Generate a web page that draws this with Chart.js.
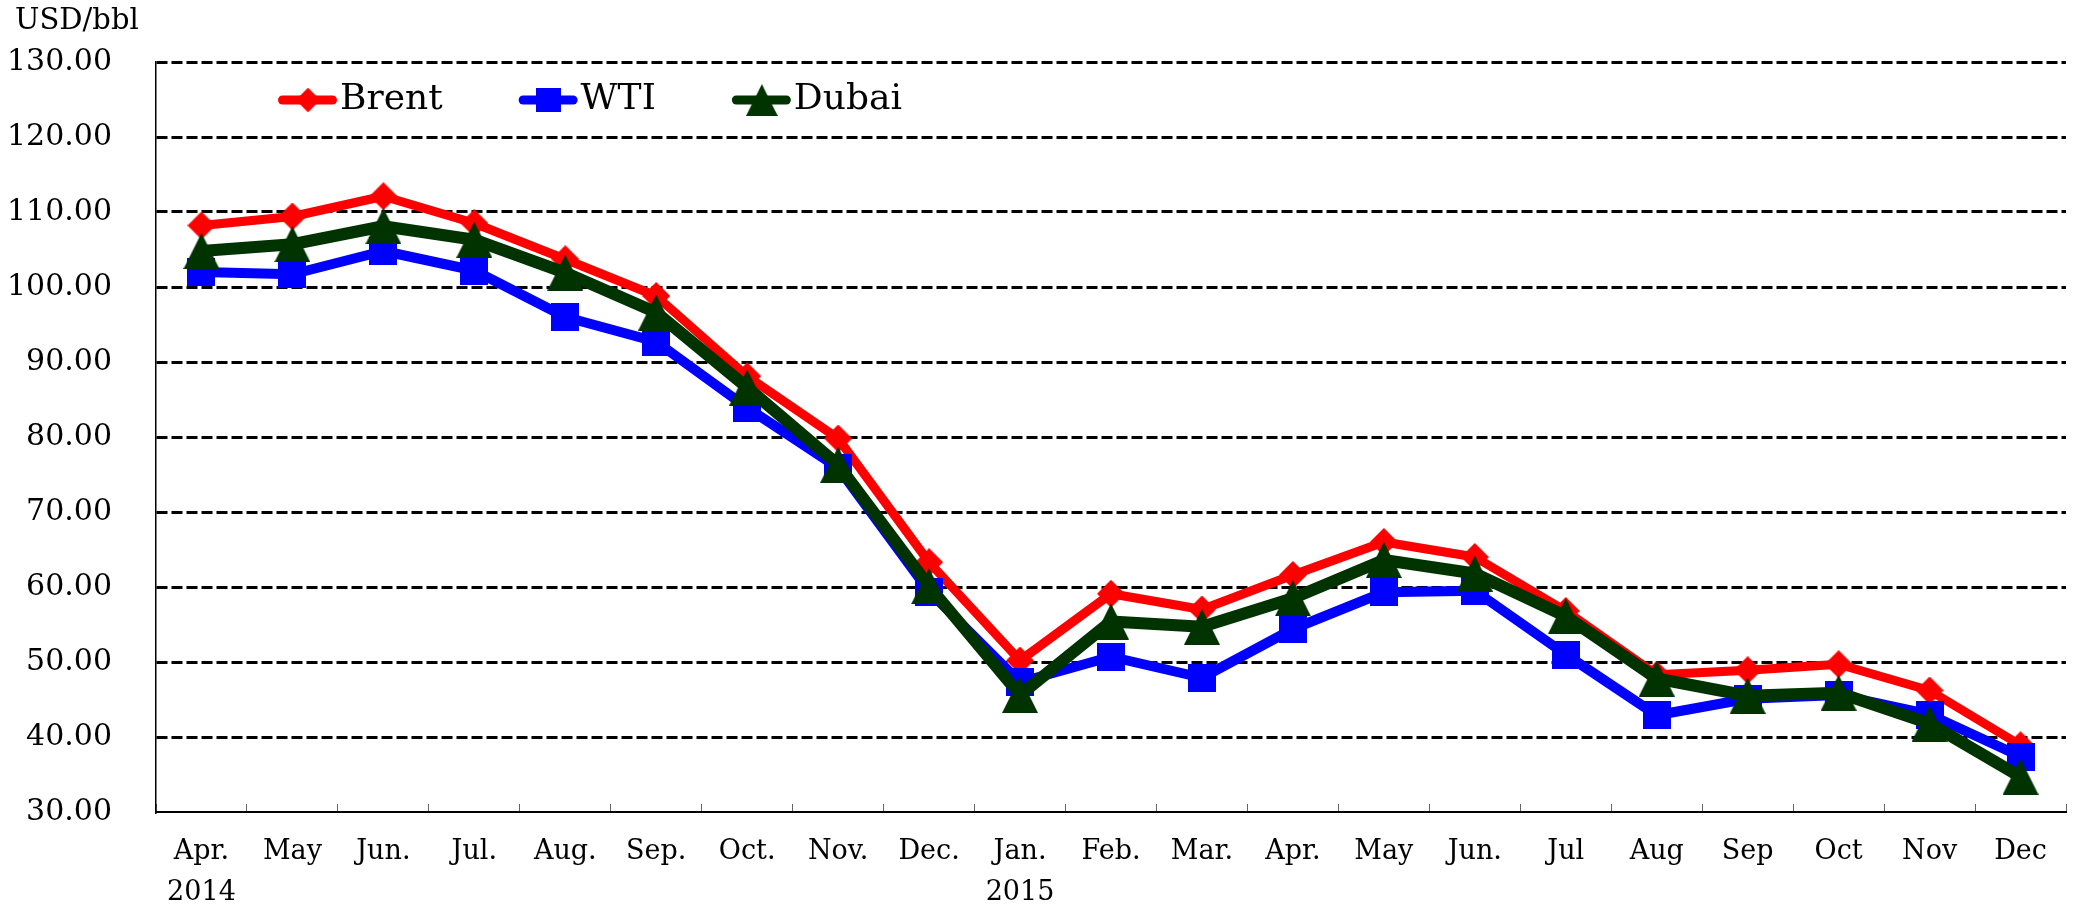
<!DOCTYPE html>
<html>
<head>
<meta charset="utf-8">
<script src="https://cdn.jsdelivr.net/npm/chart.js@4.4.0/dist/chart.umd.min.js"></script>
<style>
    html, body { margin: 0; padding: 0; background: #ffffff; }
    #wrap { width: 2093px; height: 909px; }
</style>
</head>
<body>
<div id="wrap"><canvas id="oil_chart" width="2093" height="909"></canvas></div>
<script>
// data
const months = [
    ["Apr.", "2014"], "May", "Jun.", "Jul.", "Aug.", "Sep.", "Oct.", "Nov.", "Dec.",
    ["Jan.", "2015"], "Feb.", "Mar.", "Apr.", "May", "Jun.", "Jul", "Aug", "Sep", "Oct", "Nov", "Dec",
]
const brent = [108.2, 109.4, 112.1, 108.5, 103.7, 98.8, 88.1, 79.8, 63.3, 50.2, 59.1, 57.0, 61.6, 66.0, 64.0, 56.8, 48.3, 48.9, 49.7, 46.2, 38.9]
const wti = [102.0, 101.7, 104.8, 102.2, 96.0, 92.7, 83.9, 75.9, 59.4, 47.3, 50.7, 47.9, 54.4, 59.3, 59.5, 51.0, 42.9, 45.1, 45.6, 43.0, 37.4]
const dubai = [104.8, 105.7, 108.1, 106.3, 101.9, 96.6, 86.6, 76.3, 60.1, 45.6, 55.4, 54.7, 58.5, 63.6, 61.8, 56.1, 47.8, 45.5, 45.9, 41.8, 34.7]
const yMin = 30
const yMax = 130
const yStep = 10
const unitLabel = "USD/bbl"

// marker images (excel-like shapes)
function markerCanvas(shape, color, w, h) {
    const c = document.createElement("canvas")
    c.width = w
    c.height = h
    const g = c.getContext("2d")
    g.fillStyle = color
    g.beginPath()
    if (shape === "diamond") {
        g.moveTo(w / 2, 0)
        g.lineTo(w, h / 2)
        g.lineTo(w / 2, h)
        g.lineTo(0, h / 2)
    } else if (shape === "triangle") {
        g.moveTo(w / 2, 0)
        g.lineTo(w, h)
        g.lineTo(0, h)
    } else {
        g.rect(0, 0, w, h)
    }
    g.closePath()
    g.fill()
    return c
}

// unit text above the y axis
const unitText = {
    id: "unitText",
    afterDraw(chart) {
        const ctx = chart.ctx
        ctx.save()
        ctx.font = "29px 'DejaVu Serif'"
        ctx.fillStyle = "#000000"
        ctx.textBaseline = "middle"
        ctx.textAlign = "left"
        ctx.fillText(unitLabel, 15, 21)
        ctx.restore()
    },
}

// legend drawn inside the plot area, line + marker like the original
const insideLegend = {
    id: "insideLegend",
    afterDraw(chart) {
        const ctx = chart.ctx
        const area = chart.chartArea
        let x = area.left + 122
        const y = area.top + 38
        ctx.save()
        ctx.font = "36px 'DejaVu Serif'"
        ctx.textBaseline = "middle"
        ctx.textAlign = "left"
        chart.data.datasets.forEach((ds) => {
            ctx.strokeStyle = ds.borderColor
            ctx.lineWidth = 9
            ctx.lineCap = "round"
            ctx.beginPath()
            ctx.moveTo(x + 4.5, y)
            ctx.lineTo(x + 54.5, y)
            ctx.stroke()
            const img = ds.pointStyle
            const s = 0.88
            ctx.drawImage(img, x + 30 - img.width * s / 2, y - img.height * s / 2, img.width * s, img.height * s)
            ctx.fillStyle = "#000000"
            ctx.fillText(ds.label, x + 62, y)
            x += 62 + ctx.measureText(ds.label).width + 76
        })
        ctx.restore()
    },
}

function main() {
    Chart.defaults.font.family = "'DejaVu Serif', serif"
    Chart.defaults.color = "#000000"

    new Chart(document.getElementById("oil_chart"), {
        type: "line",
        data: {
            labels: months,
            datasets: [
                {
                    label: "Brent",
                    data: brent,
                    borderColor: "#ff0000",
                    backgroundColor: "#ff0000",
                    borderWidth: 9,
                    pointStyle: markerCanvas("diamond", "#ff0000", 28, 28),
                    order: 3,
                },
                {
                    label: "WTI",
                    data: wti,
                    borderColor: "#0000ff",
                    backgroundColor: "#0000ff",
                    borderWidth: 10,
                    pointStyle: markerCanvas("square", "#0000ff", 28, 28),
                    order: 2,
                },
                {
                    label: "Dubai",
                    data: dubai,
                    borderColor: "#003300",
                    backgroundColor: "#003300",
                    borderWidth: 12,
                    pointStyle: markerCanvas("triangle", "#003300", 36, 36),
                    order: 1,
                },
            ],
        },
        options: {
            responsive: false,
            animation: false,
            events: [],
            layout: {
                padding: { left: 0, right: 27, top: 61, bottom: 0 },
            },
            elements: {
                line: {
                    tension: 0,
                    borderJoinStyle: "round",
                    borderCapStyle: "round",
                },
                point: {
                    radius: 14,
                    hoverRadius: 14,
                },
            },
            scales: {
                x: {
                    offset: true,
                    afterFit: (s) => { s.height = 97 },
                    grid: {
                        offset: true,
                        drawOnChartArea: false,
                        drawTicks: true,
                        tickLength: -8,
                        color: "#666666",
                        lineWidth: 1,
                    },
                    border: {
                        display: true,
                        color: "#000000",
                        width: 2,
                    },
                    ticks: {
                        autoSkip: false,
                        maxRotation: 0,
                        padding: 27.5,
                        font: { size: 27, lineHeight: 1.52 },
                    },
                },
                y: {
                    min: yMin,
                    max: yMax,
                    afterFit: (s) => { s.width = 156 },
                    grid: {
                        drawTicks: false,
                        lineWidth: 3,
                        color: (c) => (c.tick && c.tick.value === yMin ? "rgba(0,0,0,0)" : "#000000"),
                    },
                    border: {
                        display: true,
                        color: "#000000",
                        width: 1.5,
                        dash: [11, 4],
                    },
                    ticks: {
                        stepSize: yStep,
                        padding: 44,
                        font: { size: 30 },
                        callback: (v) => v.toFixed(2),
                    },
                },
            },
            plugins: {
                legend: { display: false },
                tooltip: { enabled: false },
                title: { display: false },
            },
        },
        plugins: [unitText, insideLegend],
    })
}

document.addEventListener("DOMContentLoaded", main())
</script>
</body>
</html>
